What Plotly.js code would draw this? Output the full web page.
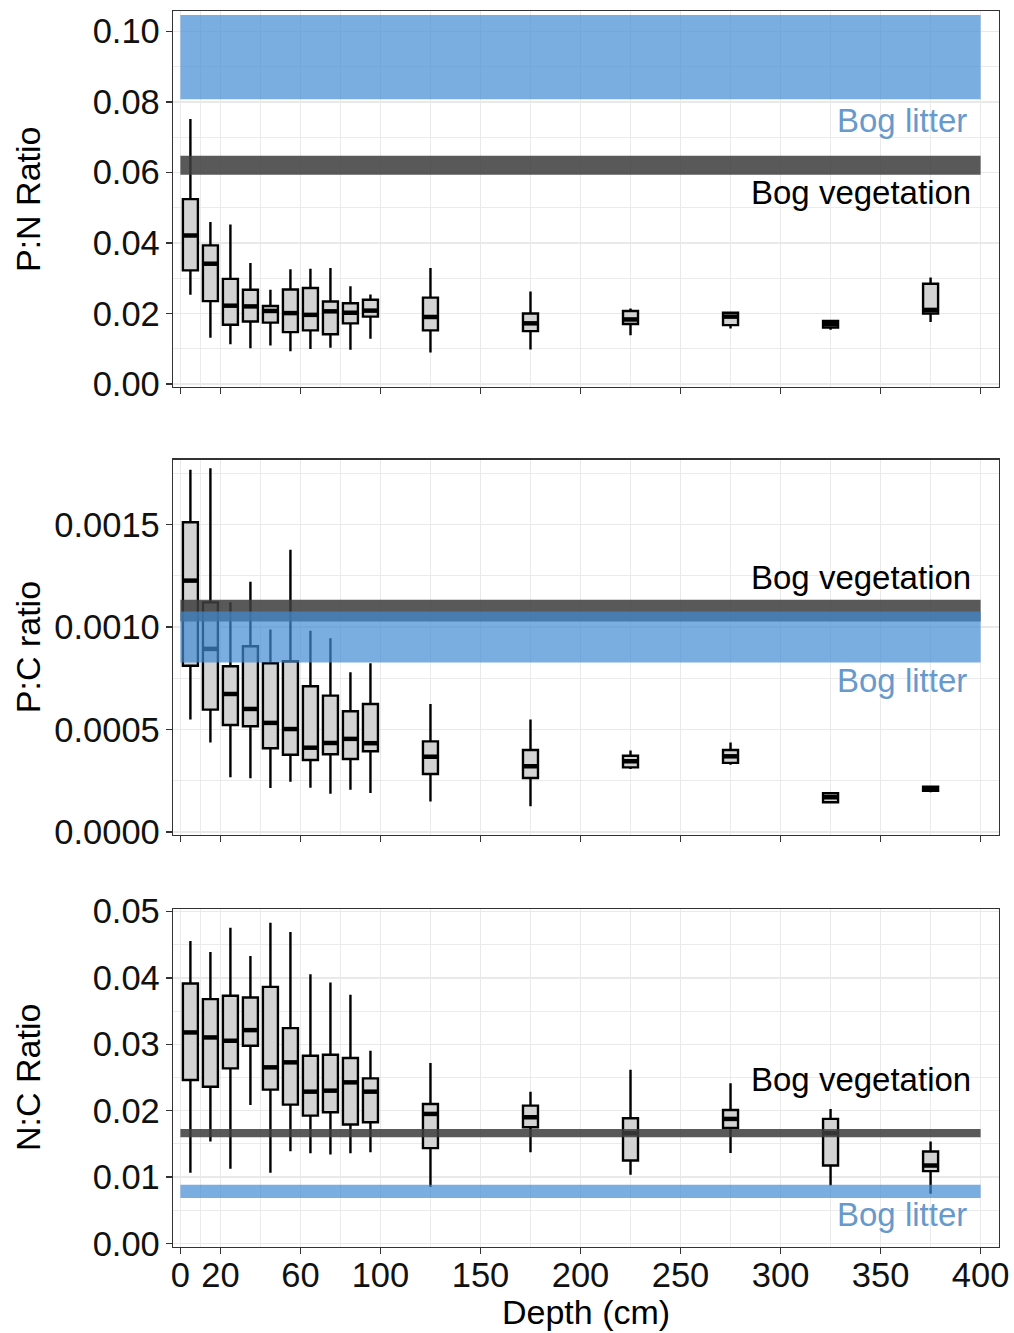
<!DOCTYPE html>
<html>
<head>
<meta charset="utf-8">
<script src="https://cdn.plot.ly/plotly-3.0.1.min.js"></script>
<style>body{margin:0;padding:0;background:#fff;}#chart{width:1014px;height:1333px;}</style>
</head>
<body>
<div id="chart"></div>
<script>
// ---------- DATA ----------
const depth = [5,15,25,35,45,55,65,75,85,95,125,175,225,275,325,375];
const xTicks = [0,20,60,100,150,200,250,300,350,400];
const xMinor = [10,40,80,125,175,225,275,325,375];

// P:N ratio
const pnLo  = [0.0253,0.0131,0.0113,0.0101,0.0109,0.0093,0.0099,0.0103,0.0097,0.0128,0.0089,0.0098,0.0138,0.0157,0.0154,0.0176];
const pnQ1  = [0.0322,0.0235,0.0168,0.0177,0.0174,0.0147,0.0152,0.0141,0.0172,0.0191,0.0152,0.0150,0.0170,0.0167,0.0160,0.0200];
const pnMed = [0.0421,0.0341,0.0222,0.0220,0.0207,0.0201,0.0196,0.0206,0.0202,0.0208,0.0190,0.0172,0.0183,0.0191,0.0170,0.0210];
const pnQ3  = [0.0524,0.0393,0.0298,0.0267,0.0221,0.0268,0.0272,0.0234,0.0229,0.0239,0.0245,0.0200,0.0207,0.0202,0.0179,0.0284];
const pnHi  = [0.0751,0.0459,0.0452,0.0343,0.0267,0.0325,0.0327,0.0329,0.0277,0.0254,0.0329,0.0262,0.0214,0.0205,0.0179,0.0302];
const pnTicks = [0,0.02,0.04,0.06,0.08,0.10];
const pnMinor = [0.01,0.03,0.05,0.07,0.09];
const pnVeg = [0.0593,0.0647];
const pnLitter = [0.0807,0.1046];

// P:C ratio
const pcLo  = [0.000548,0.000437,0.000267,0.000262,0.000215,0.000245,0.000216,0.000187,0.000206,0.000190,0.000148,0.000125,0.000307,0.000328,0.000145,0.000194];
const pcQ1  = [0.000811,0.000597,0.000522,0.000516,0.000408,0.000377,0.000351,0.000379,0.000356,0.000394,0.000283,0.000263,0.000315,0.000337,0.000145,0.000201];
const pcMed = [0.001226,0.000893,0.000673,0.000600,0.000532,0.000502,0.000411,0.000434,0.000454,0.000433,0.000367,0.000320,0.000345,0.000369,0.000169,0.000210];
const pcQ3  = [0.001511,0.001120,0.000808,0.000906,0.000823,0.000833,0.000711,0.000665,0.000589,0.000624,0.000442,0.000400,0.000372,0.000400,0.000189,0.000221];
const pcHi  = [0.001767,0.001774,0.001120,0.001221,0.000987,0.001376,0.000982,0.000945,0.000779,0.000823,0.000624,0.000548,0.000397,0.000437,0.000189,0.000221];
const pcTicks = [0,0.0005,0.0010,0.0015];
const pcMinor = [0.00025,0.00075,0.00125,0.00175];
const pcVeg = [0.001027,0.001133];
const pcLitter = [0.000827,0.001076];

// N:C ratio
const ncLo  = [0.01066,0.01536,0.01126,0.02087,0.01066,0.01391,0.01361,0.01341,0.01361,0.01376,0.00851,0.01376,0.01036,0.01366,0.00876,0.00751];
const ncQ1  = [0.02462,0.02362,0.02638,0.02978,0.02317,0.02092,0.01927,0.01977,0.01792,0.01827,0.01437,0.01752,0.01251,0.01742,0.01176,0.01091];
const ncMed = [0.03178,0.03103,0.03053,0.03213,0.02653,0.02728,0.02287,0.02302,0.02427,0.02287,0.01952,0.01902,0.01662,0.01877,0.01662,0.01176];
const ncQ3  = [0.03914,0.03679,0.03729,0.03704,0.03864,0.03243,0.02828,0.02843,0.02793,0.02487,0.02102,0.02077,0.01887,0.02012,0.01877,0.01386];
const ncHi  = [0.04555,0.04389,0.04755,0.04329,0.04830,0.04690,0.04054,0.03929,0.03744,0.02903,0.02718,0.02287,0.02618,0.02412,0.02027,0.01536];
const ncTicks = [0,0.01,0.02,0.03,0.04,0.05];
const ncMinor = [0.005,0.015,0.025,0.035,0.045];
const ncVeg = [0.01602,0.01727];
const ncLitter = [0.00686,0.00886];

const bandX = [0,400];
const labelVeg = 'Bog vegetation';
const labelLitter = 'Bog litter';

// ---------- STYLE ----------
const FONT = 'Liberation Sans, Arial, Helvetica, sans-serif';
const BOXW = 7.5;
const GRID = '#e9e9e9';
const AXC = '#333333';
const VEGC = 'rgba(62,62,62,0.86)';
const LITC = 'rgba(65,139,211,0.7)';
const LITTXT = 'rgb(104,153,204)';
const TICKSIZE = 34.5;

function boxTrace(xa, ya, lo, q1, med, q3, hi) {
  return {
    type: 'box', xaxis: xa, yaxis: ya,
    x: depth, q1: q1, median: med, q3: q3, lowerfence: lo, upperfence: hi,
    width: BOXW, whiskerwidth: 0, boxpoints: false,
    fillcolor: '#d3d3d3', line: {color: '#000', width: 2.4},
    hoverinfo: 'skip'
  };
}
function medTrace(xa, ya, med) {
  const xs = [], ys = [];
  depth.forEach((d, i) => { xs.push(d - BOXW/2, d + BOXW/2, null); ys.push(med[i], med[i], null); });
  return {type: 'scatter', mode: 'lines', xaxis: xa, yaxis: ya, x: xs, y: ys,
    line: {color: '#000', width: 4.5}, hoverinfo: 'skip'};
}

const data = [
  boxTrace('x', 'y', pnLo, pnQ1, pnMed, pnQ3, pnHi), medTrace('x', 'y', pnMed),
  boxTrace('x2', 'y2', pcLo, pcQ1, pcMed, pcQ3, pcHi), medTrace('x2', 'y2', pcMed),
  boxTrace('x3', 'y3', ncLo, ncQ1, ncMed, ncQ3, ncHi), medTrace('x3', 'y3', ncMed)
];

function xAxis(anchor, labels) {
  return {
    anchor: anchor, range: [-3.7, 409.2], tickmode: 'array', tickvals: xTicks,
    ticktext: xTicks.map(String), showticklabels: labels,
    ticks: 'outside', ticklen: 6, tickwidth: 1.5, tickcolor: AXC,
    showgrid: true, gridcolor: GRID, gridwidth: 1.5,
    minor: {tickmode: 'array', tickvals: xMinor, showgrid: true, gridcolor: GRID, gridwidth: 0.9, ticks: ''},
    showline: true, linecolor: AXC, linewidth: 1.3, mirror: true, zeroline: false,
    ticklabelstandoff: -9,
    tickfont: {family: FONT, size: TICKSIZE, color: '#111'}
  };
}
function yAxis(anchor, dom, range, ticks, minor, fmt) {
  return {
    anchor: anchor, domain: dom, range: range, tickmode: 'array', tickvals: ticks,
    tickformat: fmt, ticks: 'outside', ticklen: 6, tickwidth: 1.5, tickcolor: AXC,
    showgrid: true, gridcolor: GRID, gridwidth: 1.5,
    minor: {tickmode: 'array', tickvals: minor, showgrid: true, gridcolor: GRID, gridwidth: 0.9, ticks: ''},
    showline: true, linecolor: AXC, linewidth: 1.3, mirror: true, zeroline: false,
    ticklabelstandoff: -1,
    tickfont: {family: FONT, size: TICKSIZE, color: '#111'}
  };
}

function band(xr, yr, range, color) {
  return {type: 'rect', xref: xr, yref: yr, x0: bandX[0], x1: bandX[1], y0: range[0], y1: range[1],
    fillcolor: color, line: {width: 0}, layer: 'above'};
}
function label(xr, yr, x, y, text, color) {
  return {xref: xr, yref: yr, x: x, y: y, text: text, showarrow: false,
    xanchor: 'right', yanchor: 'middle', font: {family: FONT, size: 33, color: color}};
}
function ytitle(text, dom) {
  return {xref: 'paper', yref: 'paper', x: -0.1755, y: (dom[0] + dom[1]) / 2, text: text,
    textangle: -90, showarrow: false, xanchor: 'center', yanchor: 'middle',
    font: {family: FONT, size: 34, color: '#000'}};
}

const d1 = [0.6958, 1], d2 = [0.3336, 0.6370], d3 = [0, 0.2735];
const XV = 396, XL = 394.3;

const layout = {
  width: 1014, height: 1333,
  margin: {l: 173, r: 15, t: 11, b: 86},
  paper_bgcolor: '#fff', plot_bgcolor: '#fff', showlegend: false,
  xaxis: xAxis('y', false),
  xaxis2: xAxis('y2', false),
  xaxis3: xAxis('y3', true),
  yaxis: yAxis('x', d1, [-0.00085, 0.10575], pnTicks, pnMinor, '.2f'),
  yaxis2: yAxis('x2', d2, [-0.0000132, 0.001816], pcTicks, pcMinor, '.4f'),
  yaxis3: yAxis('x3', d3, [-0.0005, 0.05036], ncTicks, ncMinor, '.2f'),
  shapes: [
    band('x', 'y', pnVeg, VEGC), band('x', 'y', pnLitter, LITC),
    band('x2', 'y2', pcVeg, VEGC), band('x2', 'y2', pcLitter, LITC),
    band('x3', 'y3', ncVeg, VEGC), band('x3', 'y3', ncLitter, LITC)
  ],
  annotations: [
    label('x', 'y', XL, 0.0746, labelLitter, LITTXT),
    label('x', 'y', XV, 0.0544, labelVeg, '#000'),
    label('x2', 'y2', XV, 0.001240, labelVeg, '#000'),
    label('x2', 'y2', XL, 0.000738, labelLitter, LITTXT),
    label('x3', 'y3', XV, 0.02467, labelVeg, '#000'),
    label('x3', 'y3', XL, 0.00436, labelLitter, LITTXT),
    ytitle('P:N Ratio', d1), ytitle('P:C ratio', d2), ytitle('N:C Ratio', d3),
    {xref: 'paper', yref: 'paper', x: 0.5, y: -0.0523, text: 'Depth (cm)', showarrow: false,
     xanchor: 'center', yanchor: 'middle', font: {family: FONT, size: 34, color: '#000'}}
  ]
};

Plotly.newPlot('chart', data, layout, {staticPlot: true, displayModeBar: false});
</script>
</body>
</html>
